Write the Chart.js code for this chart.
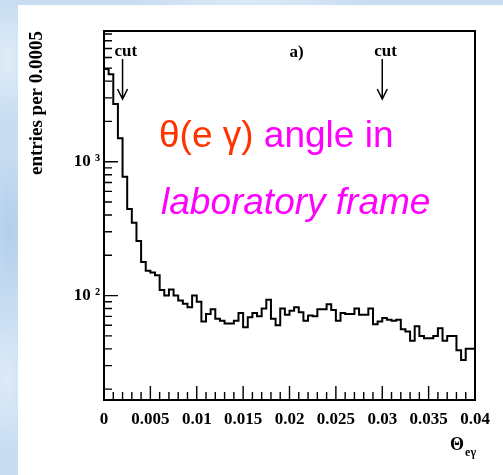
<!DOCTYPE html>
<html>
<head>
<meta charset="utf-8">
<script src="https://cdn.jsdelivr.net/npm/chart.js@4/dist/chart.umd.min.js"></script>
<style>
  html, body { margin: 0; padding: 0; }
  body {
    width: 503px; height: 475px; overflow: hidden; position: relative;
    background-color: #c8ddf2;
    background-image:
      radial-gradient(ellipse 30px 60px at 8px 60px, rgba(255,255,255,0.45), transparent),
      radial-gradient(ellipse 25px 80px at 10px 230px, rgba(160,195,232,0.55), transparent),
      radial-gradient(ellipse 30px 70px at 6px 380px, rgba(255,255,255,0.4), transparent),
      radial-gradient(ellipse 120px 10px at 250px 2px, rgba(255,255,255,0.4), transparent);
  }
  #panel { position: absolute; left: 18px; top: 5px; right: 0; bottom: 0; background: #fff; }
  #plot { position: absolute; left: 0; top: 0; }
</style>
</head>
<body>
<div id="panel"></div>
<canvas id="plot" width="503" height="475"></canvas>
<script>
// entries per 0.0005 bin of theta(e gamma), 0 .. 0.04
const BIN_WIDTH = 0.0005;
const counts = [
  4930, 4500, 2700, 1500, 773, 443, 350, 256, 178, 153,
  149, 142, 110, 100, 111, 100, 92, 87, 82, 100,
  90, 64, 73, 79, 67, 65, 62, 62, 65, 74,
  58, 69, 74, 70, 80, 93, 67, 60, 80, 72,
  77, 82, 75, 65, 71, 70, 79, 79, 86, 78,
  65, 74, 73, 73, 80, 72, 72, 80, 61, 64,
  68, 66, 65, 66, 56, 54, 46, 59, 50, 48,
  48, 50, 57, 46, 50, 50, 39, 33, 40, 40
];

const xRange = [0, 0.04];
const yRange = [16.6, 9470];
const xLabelTicks = [0, 0.005, 0.01, 0.015, 0.02, 0.025, 0.03, 0.035, 0.04];
const yLabelTicks = [100, 1000];
const yMinorTicks = [20, 30, 40, 50, 60, 70, 80, 90,
                     200, 300, 400, 500, 600, 700, 800, 900,
                     2000, 3000, 4000, 5000, 6000, 7000, 8000, 9000];
const cutValues = [0.002, 0.03];

const SUP = { 2: '\u00b2', 3: '\u00b3' };
const SERIF = '"Liberation Serif", "DejaVu Serif", serif';
const SANS = '"Liberation Sans", Arial, sans-serif';

// step histogram: one point per bin low edge, plus the closing edge
const points = counts.map((c, i) => ({ x: i * BIN_WIDTH, y: c }));
points.push({ x: counts.length * BIN_WIDTH, y: counts[counts.length - 1] });

const xMinorTicks = [];
for (let i = 1; i < 40; i++) {
  if (i % 5 !== 0) xMinorTicks.push(i / 1000);
}

const rootFrame = {
  id: 'rootFrame',
  afterDatasetsDraw(chart) {
    const { ctx, chartArea: a, scales: { x, y } } = chart;
    ctx.save();

    // frame
    ctx.strokeStyle = '#000';
    ctx.lineWidth = 2;
    ctx.strokeRect(a.left, a.top, a.right - a.left, a.bottom - a.top);

    // tick marks drawn inward
    ctx.lineWidth = 1.4;
    ctx.beginPath();
    xMinorTicks.forEach(v => {
      const px = x.getPixelForValue(v);
      ctx.moveTo(px, a.bottom); ctx.lineTo(px, a.bottom - 8);
    });
    xLabelTicks.forEach(v => {
      const px = x.getPixelForValue(v);
      ctx.moveTo(px, a.bottom); ctx.lineTo(px, a.bottom - 14);
    });
    yMinorTicks.forEach(v => {
      const py = y.getPixelForValue(v);
      ctx.moveTo(a.left, py); ctx.lineTo(a.left + 8, py);
    });
    yLabelTicks.forEach(v => {
      const py = y.getPixelForValue(v);
      ctx.moveTo(a.left, py); ctx.lineTo(a.left + 14, py);
    });
    ctx.stroke();

    // cut arrows
    ctx.fillStyle = '#000';
    ctx.font = 'bold 17px ' + SERIF;
    ctx.textBaseline = 'alphabetic';
    ctx.textAlign = 'left';
    cutValues.forEach(v => {
      const px = x.getPixelForValue(v);
      const top = a.top + 28, tip = a.top + 68;
      ctx.lineWidth = 1.5;
      ctx.beginPath();
      ctx.moveTo(px, top); ctx.lineTo(px, tip);
      ctx.moveTo(px - 5, tip - 10); ctx.lineTo(px, tip); ctx.lineTo(px + 5, tip - 10);
      ctx.stroke();
      ctx.fillText('cut', px - 8, a.top + 25);
    });
    ctx.fillText('a)', x.getPixelForValue(0.02), a.top + 26);

    // axis title under the x axis
    ctx.textAlign = 'right';
    ctx.font = 'bold 12px ' + SERIF;
    const subW = ctx.measureText('e\u03b3').width;
    ctx.fillText('e\u03b3', a.right + 1, a.bottom + 56);
    ctx.font = 'bold 18px ' + SERIF;
    ctx.fillText('\u0398', a.right + 1 - subW - 1, a.bottom + 50);

    // caption inside the frame
    ctx.textAlign = 'left';
    ctx.font = '37px ' + SANS;
    const head = '\u03b8(e \u03b3) ';
    ctx.fillStyle = '#ff3300';
    ctx.fillText(head, 159, 147);
    ctx.fillStyle = '#ff00ff';
    ctx.fillText('angle in', 159 + ctx.measureText(head).width, 147);
    ctx.font = 'italic 37px ' + SANS;
    ctx.fillText('laboratory frame', 161, 214);

    ctx.restore();
  }
};

new Chart(document.getElementById('plot').getContext('2d'), {
  type: 'line',
  data: {
    datasets: [{
      data: points,
      stepped: true,
      borderColor: '#000',
      borderWidth: 2,
      pointRadius: 0,
      fill: false
    }]
  },
  options: {
    responsive: false,
    animation: false,
    events: [],
    layout: { padding: { left: 20, right: 28, top: 31, bottom: 0 } },
    plugins: { legend: { display: false }, tooltip: { enabled: false } },
    scales: {
      x: {
        type: 'linear',
        min: xRange[0],
        max: xRange[1],
        grid: { display: false, drawTicks: false },
        border: { display: false },
        afterBuildTicks: s => { s.ticks = xLabelTicks.map(v => ({ value: v })); },
        afterFit: s => { s.height = 75; },
        ticks: {
          autoSkip: false,
          maxRotation: 0,
          padding: 9,
          color: '#000',
          font: { family: SERIF, size: 17, weight: 'bold' },
          callback: v => String(v)
        }
      },
      y: {
        type: 'logarithmic',
        min: yRange[0],
        max: yRange[1],
        grid: { display: false, drawTicks: false },
        border: { display: false },
        afterBuildTicks: s => { s.ticks = yLabelTicks.map(v => ({ value: v })); },
        afterFit: s => { s.width = 84; },
        ticks: {
          padding: 4,
          color: '#000',
          font: { family: SERIF, size: 17, weight: 'bold' },
          callback: v => '10 ' + SUP[Math.round(Math.log10(v))]
        },
        title: {
          display: true,
          text: 'entries per 0.0005',
          align: 'end',
          color: '#000',
          padding: { top: 6, bottom: 0 },
          font: { family: SERIF, size: 19, weight: 'bold' }
        }
      }
    }
  },
  plugins: [rootFrame]
});
</script>
</body>
</html>
